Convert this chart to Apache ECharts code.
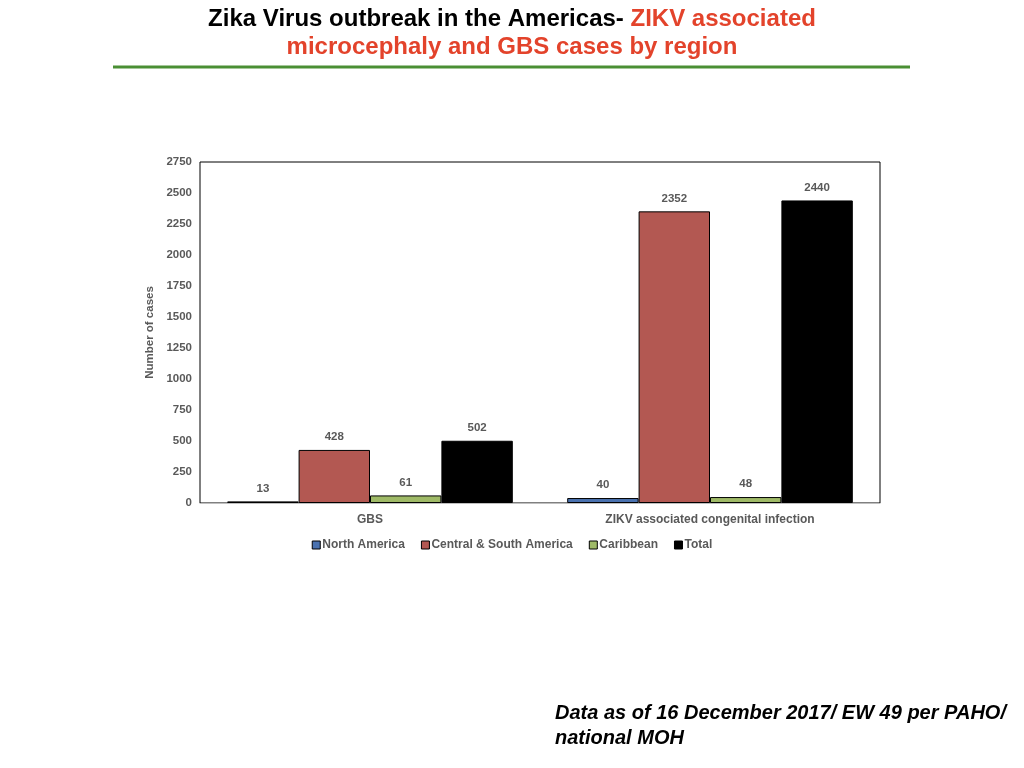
<!DOCTYPE html>
<html>
<head>
<meta charset="utf-8">
<script src="https://cdn.jsdelivr.net/npm/echarts@6/dist/echarts.min.js"></script>
<style>
  html, body { margin: 0; padding: 0; background: #fff; }
  #main { width: 1024px; height: 768px; }
</style>
</head>
<body>
<div id="main"></div>
<script>
var categories = ["GBS", "ZIKV associated congenital infection"];
var seriesNames = ["North America", "Central & South America", "Caribbean", "Total"];
var northAmerica = [13, 40];
var centralSouthAmerica = [428, 2352];
var caribbean = [61, 48];
var total = [502, 2440];

var chartDom = document.getElementById("main");
var myChart = echarts.init(chartDom, null, { renderer: "canvas" });
var option;

var labelStyle = {
  show: true,
  position: "top",
  distance: 7,
  color: "#595959",
  fontFamily: "Liberation Sans",
  fontWeight: "bold",
  fontSize: 11.5
};

function makeSeries(name, data, color) {
  return {
    name: name,
    type: "bar",
    data: data,
    barGap: "0%",
    barCategoryGap: "16%",
    itemStyle: { color: color, borderColor: "#000", borderWidth: 1 },
    label: labelStyle
  };
}

option = {
  backgroundColor: "#fff",
  animation: false,
  title: {
    left: "center",
    top: 4,
    padding: [1, 5],
    text: "{a|Zika Virus outbreak in the Americas- }{b|ZIKV associated}\n{b|microcephaly and GBS cases by region}",
    textStyle: {
      lineHeight: 28,
      rich: {
        a: { color: "#000", fontFamily: "Liberation Sans", fontWeight: "bold", fontSize: 24, lineHeight: 28 },
        b: { color: "#e3432b", fontFamily: "Liberation Sans", fontWeight: "bold", fontSize: 24, lineHeight: 28 }
      }
    }
  },
  graphic: [
    {
      type: "line",
      shape: { x1: 113, y1: 67, x2: 910, y2: 67 },
      style: { stroke: "#4a8f34", lineWidth: 3 }
    },
    {
      type: "text",
      left: 555,
      top: 701,
      style: {
        text: "Data as of 16 December 2017/ EW 49 per PAHO/\nnational MOH",
        fill: "#000",
        font: "italic bold 20px 'Liberation Sans'",
        lineHeight: 25
      }
    }
  ],
  legend: {
    top: 534,
    left: "center",
    itemWidth: 8,
    itemHeight: 8,
    itemGap: 16,
    icon: "rect",
    textStyle: { color: "#595959", fontFamily: "Liberation Sans", fontWeight: "bold", fontSize: 12, padding: [0, 0, 0, -3] },
    data: seriesNames.map(function (n) {
      return { name: n, itemStyle: { borderColor: "#000", borderWidth: 1 } };
    })
  },
  grid: {
    left: 200,
    right: 144,
    top: 162,
    bottom: 265,
    show: true,
    borderColor: "#000",
    borderWidth: 1
  },
  xAxis: {
    type: "category",
    data: categories,
    axisLine: { show: true, lineStyle: { color: "#bfbfbf" } },
    axisTick: { show: false },
    axisLabel: { color: "#595959", fontFamily: "Liberation Sans", fontWeight: "bold", fontSize: 12, margin: 11 }
  },
  yAxis: {
    type: "value",
    min: 0,
    max: 2750,
    interval: 250,
    name: "Number of cases",
    nameLocation: "middle",
    nameGap: 40,
    nameTextStyle: { color: "#595959", fontFamily: "Liberation Sans", fontWeight: "bold", fontSize: 11.5 },
    axisLine: { show: false },
    axisTick: { show: false },
    splitLine: { show: false },
    axisLabel: {
      color: "#595959", fontFamily: "Liberation Sans", fontWeight: "bold", fontSize: 11.5, margin: 8,
      formatter: function (v) { return String(v); }
    }
  },
  series: [
    makeSeries(seriesNames[0], northAmerica, "#4a72b0"),
    makeSeries(seriesNames[1], centralSouthAmerica, "#b35852"),
    makeSeries(seriesNames[2], caribbean, "#9fba67"),
    makeSeries(seriesNames[3], total, "#000")
  ]
};

option && myChart.setOption(option);
</script>
</body>
</html>
